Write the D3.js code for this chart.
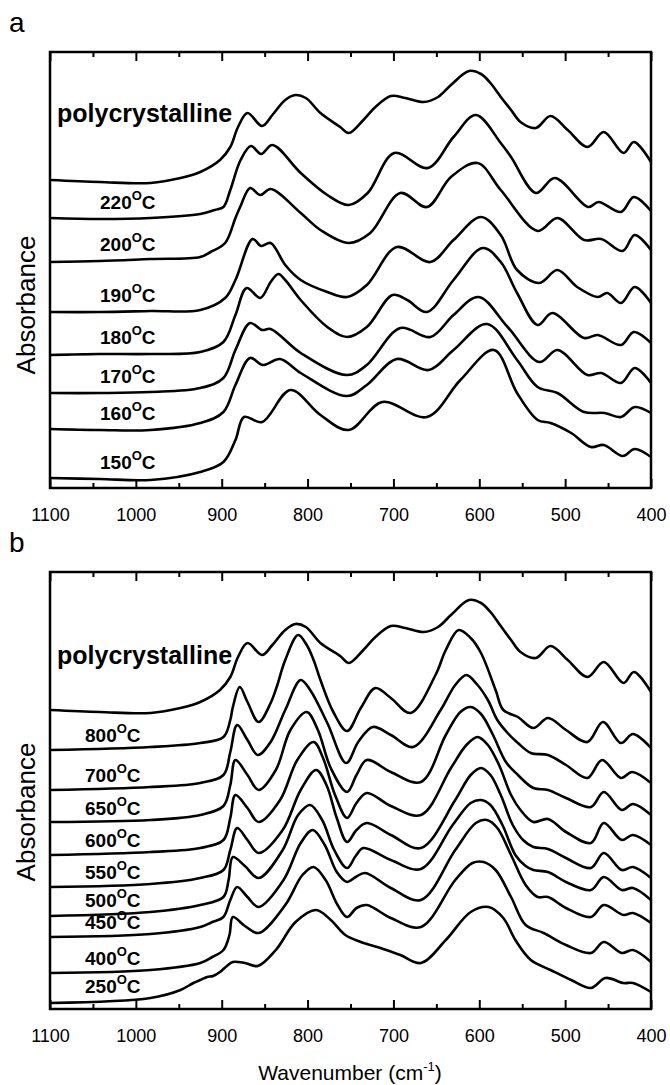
<!DOCTYPE html>
<html>
<head>
<meta charset="utf-8">
<script src="https://cdn.jsdelivr.net/npm/d3@7"></script>
<style>
  body { margin: 0; background: #fff; }
  text { font-family: 'Liberation Sans', Arial, sans-serif; fill: #000; }
  .axis path { display: none; }
  .axis line { stroke: #000; stroke-width: 2; }
  .axis text { font-size: 18px; }
  .trace { fill: none; stroke: #000; stroke-width: 2.6; stroke-linejoin: round; }
</style>
</head>
<body>
<svg width="670" height="1085"></svg>
<script>
// wavenumber ticks (cm-1)
const majorTicks = [1100, 1000, 900, 800, 700, 600, 500, 400]
const minorTicks = [1050, 950, 850, 750, 650, 550, 450]

// panel a: [wavenumber, absorbance (a.u., stacked)]
const labelsA = ['polycrystalline', '220', '200', '190', '180', '170', '160', '150']
const polyA = [[1100,308],[1042,306],[983,305],[948,310],[925,316],[902,328],[890,341],[881,361],[870,375],[853,362],[841,373],[826,388],[814,393],[802,390],[785,375],[762,361],[752,355],[735,368],[721,381],[703,392],[686,390],[665,386],[648,391],[633,403],[612,417],[598,414],[587,405],[575,391],[563,378],[552,366],[534,360],[517,372],[497,358],[474,341],[455,356],[432,335],[420,346],[400,326]]
const t220 = [[1100,270],[1042,269],[983,270],[925,274],[908,278],[898,281],[890,298],[878,328],[866,342],[854,334],[841,343],[808,315],[777,293],[752,283],[730,295],[699,335],[660,320],[630,351],[604,373],[575,345],[563,331],[534,295],[512,310],[473,281],[461,286],[435,276],[420,291],[400,277]]
const t200 = [[1100,226],[1042,227],[983,229],[925,231],[913,236],[896,245],[884,270],[878,282],[867,300],[855,293],[843,299],[808,275],[785,258],[752,245],[727,255],[692,295],[661,281],[633,311],[602,325],[575,298],[532,257],[509,270],[478,248],[458,249],[433,237],[419,253],[400,238]]
const t190 = [[1100,176],[1042,176],[983,177],[925,178],[896,190],[884,208],[864,249],[854,242],[843,245],[826,223],[808,208],[777,196],[754,191],[731,203],[696,241],[657,226],[630,248],[598,271],[575,253],[556,218],[530,205],[509,218],[486,201],[462,191],[451,195],[435,185],[419,201],[400,185]]
const t180 = [[1100,133],[1042,134],[983,134],[925,136],[898,146],[884,173],[871,200],[855,190],[843,206],[834,214],[826,208],[808,188],[777,161],[754,151],[731,161],[701,193],[684,188],[661,176],[630,208],[596,240],[575,226],[556,195],[532,163],[515,175],[478,150],[462,153],[435,143],[420,156],[400,145]]
const t170 = [[1100,95],[1042,95],[983,96],[925,100],[898,110],[884,138],[867,165],[853,158],[843,159],[808,135],[754,113],[731,123],[692,160],[657,151],[630,173],[601,191],[567,161],[530,126],[509,138],[474,113],[458,115],[435,105],[419,120],[400,105]]
const t160 = [[1100,59],[1042,58],[983,58],[925,65],[898,76],[884,103],[867,130],[852,123],[832,129],[808,115],[754,92],[731,103],[696,129],[659,118],[630,138],[591,164],[556,128],[532,101],[509,95],[478,76],[454,75],[435,71],[419,81],[400,75]]
const t150 = [[1100,10],[1042,9],[983,8],[925,16],[898,26],[884,48],[874,71],[853,66],[820,98],[785,73],[752,58],[713,86],[661,71],[622,108],[583,138],[556,95],[532,68],[517,65],[493,55],[470,41],[455,43],[433,32],[419,39],[400,31]]

// panel b
const labelsB = ['polycrystalline', '800', '700', '650', '600', '550', '500', '450', '400', '250']
const polyB = [[1100,299],[1042,297],[983,296],[948,301],[925,307],[902,319],[890,332],[881,352],[870,366],[853,354],[841,364],[826,379],[814,385],[802,382],[785,366],[762,353],[752,346],[735,359],[721,372],[703,383],[686,381],[665,377],[648,382],[633,394],[612,409],[598,406],[587,397],[575,383],[563,369],[552,357],[534,351],[517,363],[497,349],[474,332],[455,347],[432,326],[420,337],[400,317]]
const t800 = [[1100,259],[983,262],[925,266],[898,272],[890,289],[887,302],[879,322],[870,307],[857,287],[843,306],[836,322],[826,349],[811,374],[801,364],[793,349],[785,329],[770,297],[754,278],[738,301],[721,321],[703,311],[680,296],[651,334],[639,359],[624,379],[610,371],[598,356],[581,319],[572,299],[555,292],[537,281],[520,291],[499,279],[474,267],[456,287],[435,266],[421,275],[400,261]]
const t700 = [[1100,219],[983,222],[925,226],[898,234],[890,257],[882,284],[870,269],[858,254],[843,267],[826,299],[808,329],[797,319],[777,286],[755,246],[741,267],[724,282],[703,274],[677,262],[645,299],[628,324],[615,334],[603,325],[590,309],[579,289],[567,276],[555,266],[540,256],[520,254],[499,244],[474,231],[457,249],[435,231],[422,237],[400,226]]
const t650 = [[1100,187],[983,189],[925,194],[898,203],[890,224],[884,249],[870,234],[857,219],[837,239],[820,279],[801,297],[788,279],[773,241],[754,217],[743,234],[731,249],[703,237],[668,227],[639,274],[622,297],[610,302],[598,295],[584,274],[569,247],[555,234],[537,221],[520,219],[499,211],[470,202],[455,217],[434,199],[421,205],[400,194]]
const t600 = [[1100,154],[983,157],[925,161],[898,169],[890,191],[884,214],[870,201],[857,187],[832,209],[812,249],[793,267],[782,251],[768,214],[754,191],[743,206],[731,216],[703,203],[668,194],[633,241],[615,264],[602,272],[590,264],[577,244],[563,214],[552,199],[537,187],[520,190],[499,177],[470,166],[455,186],[434,169],[421,174],[400,164]]
const t550 = [[1100,122],[983,125],[925,131],[898,139],[890,159],[882,181],[870,169],[857,156],[829,179],[808,219],[790,239],[778,224],[766,191],[754,167],[743,179],[731,186],[703,174],[668,161],[628,209],[610,234],[598,241],[587,234],[575,214],[561,184],[549,169],[537,162],[520,160],[499,151],[470,141],[455,156],[434,139],[421,142],[400,131]]
const t500 = [[1100,93],[983,97],[925,104],[898,112],[892,129],[887,152],[873,143],[857,131],[829,159],[811,194],[797,204],[783,189],[769,159],[754,141],[744,153],[735,161],[703,149],[668,140],[631,184],[610,206],[598,209],[587,204],[573,184],[558,154],[546,143],[537,139],[520,137],[499,127],[470,119],[455,132],[434,119],[421,121],[400,109]]
const t450 = [[1100,72],[983,75],[925,82],[911,87],[898,92],[890,109],[882,122],[870,112],[857,102],[828,129],[808,166],[794,179],[780,164],[766,137],[754,127],[744,132],[733,136],[703,121],[668,109],[628,159],[604,186],[591,189],[579,181],[563,154],[546,124],[532,112],[520,112],[499,101],[470,92],[455,104],[432,94],[421,96],[400,86]]
const t400 = [[1100,36],[983,39],[925,46],[911,52],[898,59],[891,74],[887,92],[873,83],[857,76],[826,104],[806,134],[793,142],[779,129],[765,104],[754,92],[743,101],[731,104],[703,91],[668,82],[628,129],[608,146],[595,147],[581,139],[563,112],[546,84],[525,76],[499,64],[470,56],[455,67],[434,56],[421,59],[400,47]]
const t250 = [[1100,6],[983,11],[948,19],[933,26],[925,29],[917,32],[910,33],[902,37],[894,43],[887,47],[873,46],[858,43],[837,59],[814,87],[790,99],[773,89],[756,74],[738,67],[715,61],[692,54],[668,46],[639,69],[610,97],[589,102],[572,91],[558,69],[540,49],[517,39],[493,29],[470,21],[453,31],[432,26],[421,26],[400,17]]

const seriesA = [polyA, t220, t200, t190, t180, t170, t160, t150]
const seriesB = [polyB, t800, t700, t650, t600, t550, t500, t450, t400, t250]

const svg = d3.select('svg')
const left = 50
const right = 651

const x = d3.scaleLinear().domain([1100, 400]).range([left, right])

function panel (p) {
  const {top, bottom, letter, series, labels, labelX, labelLift, polyLift, titleY} = p
  const y = d3.scaleLinear().domain([0, bottom - top]).range([bottom, top])
  const g = svg.append('g')

  g.append('text')
    .attr('x', 9)
    .attr('y', top - 20)
    .style('font-size', '28px')
    .text(letter)

  // ticks point inward, labels only on the bottom
  g.append('g').attr('class', 'axis')
    .attr('transform', `translate(0,${bottom})`)
    .call(d3.axisBottom(x).tickValues(majorTicks).tickSize(-9).tickSizeOuter(0).tickPadding(20).tickFormat(d3.format('d')))
  g.append('g').attr('class', 'axis')
    .attr('transform', `translate(0,${bottom})`)
    .call(d3.axisBottom(x).tickValues(minorTicks).tickSize(-5).tickSizeOuter(0).tickFormat(''))
  g.append('g').attr('class', 'axis')
    .attr('transform', `translate(0,${top})`)
    .call(d3.axisTop(x).tickValues(majorTicks).tickSize(-9).tickSizeOuter(0).tickFormat(''))
  g.append('g').attr('class', 'axis')
    .attr('transform', `translate(0,${top})`)
    .call(d3.axisTop(x).tickValues(minorTicks).tickSize(-5).tickSizeOuter(0).tickFormat(''))

  g.append('rect')
    .attr('x', left).attr('y', top)
    .attr('width', right - left).attr('height', bottom - top)
    .attr('fill', 'none').attr('stroke', '#000').attr('stroke-width', 2.5)

  const line = d3.line()
    .x((d) => x(d[0]))
    .y((d) => y(d[1]))
    .curve(d3.curveCatmullRom.alpha(0.5))

  g.selectAll('path.trace')
    .data(series)
    .enter().append('path')
    .attr('class', 'trace')
    .attr('d', line)

  g.append('text')
    .attr('transform', `translate(35,${titleY}) rotate(-90)`)
    .attr('text-anchor', 'middle')
    .style('font-size', '26px')
    .text('Absorbance')

  // sample labels sit just above the flat start of each trace
  series.forEach((s, i) => {
    const base = y(s[1][1])
    if (i === 0) {
      g.append('text')
        .attr('x', 57).attr('y', base - polyLift)
        .style('font-size', '25px').style('font-weight', 'bold')
        .text(labels[0])
      return
    }
    const t = g.append('text')
      .attr('x', labelX).attr('y', base - labelLift)
      .style('font-size', '19px').style('font-weight', 'bold')
    t.append('tspan').text(labels[i])
    t.append('tspan').attr('dy', -9).style('font-size', '13px').text('O')
    t.append('tspan').attr('dy', 9).text('C')
  })
}

panel({top: 52, bottom: 488, letter: 'a', series: seriesA, labels: labelsA, labelX: 100, labelLift: 10, polyLift: 60, titleY: 305})
panel({top: 572, bottom: 1009, letter: 'b', series: seriesB, labels: labelsB, labelX: 85, labelLift: 5, polyLift: 48, titleY: 812})

const title = svg.append('text')
  .attr('x', 350).attr('y', 1080)
  .attr('text-anchor', 'middle')
  .style('font-size', '21px')
title.append('tspan').text('Wavenumber (cm')
title.append('tspan').attr('dy', -9).style('font-size', '13px').text('-1')
title.append('tspan').attr('dy', 9).text(')')
</script>
</body>
</html>
